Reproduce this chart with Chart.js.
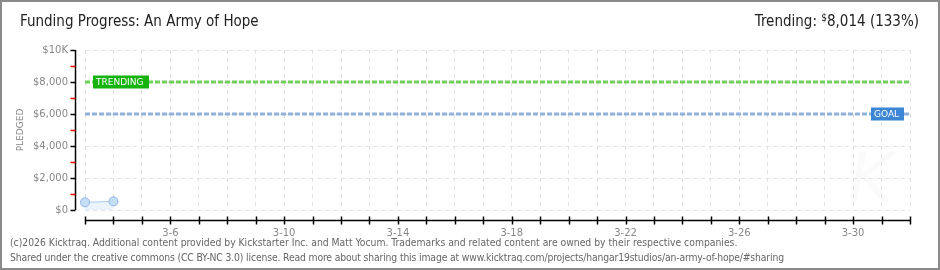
<!DOCTYPE html>
<html>
<head>
<meta charset="utf-8">
<script src="https://cdn.jsdelivr.net/npm/chart.js@4.4.1/dist/chart.umd.min.js"></script>
<style>
  html, body { margin: 0; padding: 0; background: #fff; }
  #wrap { position: relative; width: 940px; height: 270px; overflow: hidden; }
  #frame { position: absolute; left: 0; top: 0; width: 936px; height: 266px; border: 2px solid #8a8a8a; pointer-events: none; }
  #graphCanvas { position: absolute; left: 0; top: 0; }
  .title { position: absolute; left: 20px; top: 12px; font: 15px "DejaVu Sans Condensed", sans-serif; color: #222; }
  .trend { position: absolute; right: 21px; top: 12px; font: 15px "DejaVu Sans Condensed", sans-serif; color: #222; }
  .trend sup { font-size: 10px; vertical-align: 5px; }
  .foot { position: absolute; left: 10px; font: 10.3px "DejaVu Sans Condensed", sans-serif; color: #666; white-space: nowrap; }
</style>
</head>
<body>
<div id="wrap">
  <canvas id="graphCanvas" width="940" height="270"></canvas>
  <div class="title">Funding Progress: An Army of Hope</div>
  <div class="trend">Trending: <sup>$</sup>8,014 (133%)</div>
  <div class="foot" style="top:236px">(c)2026 Kicktraq. Additional content provided by Kickstarter Inc. and Matt Yocum. Trademarks and related content are owned by their respective companies.</div>
  <div class="foot" style="top:251px; letter-spacing:-0.14px">Shared under the creative commons (CC BY-NC 3.0) license. Read more about sharing this image at www.kicktraq.com/projects/hangar19studios/an-army-of-hope/#sharing</div>
  <div id="frame"></div>
</div>
<script>
// days shown on the x axis (3-3 .. 4-1)
var days = ['3-3','3-4','3-5','3-6','3-7','3-8','3-9','3-10','3-11','3-12','3-13','3-14','3-15','3-16','3-17',
            '3-18','3-19','3-20','3-21','3-22','3-23','3-24','3-25','3-26','3-27','3-28','3-29','3-30','3-31','4-1'];
var pledgedDays = ['3-3', '3-4'];
var pledged = [480, 540];
var goal = 6000;
var trending = 8000;
var yTicks = [0, 2000, 4000, 6000, 8000, 10000];

var tickFont = { family: 'DejaVu Sans', size: 10 };

// black axis lines offset from the plot, like the original
var axisPlugin = {
    id: 'axisLines',
    afterDraw: function (chart) {
        var ctx = chart.ctx;
        var x = chart.scales.x, y = chart.scales.y;
        var ca = chart.chartArea;
        ctx.save();
        ctx.strokeStyle = '#000';
        ctx.lineWidth = 1.5;
        // y axis
        var ax = ca.left - 9.5;
        ctx.beginPath();
        ctx.moveTo(ax, y.getPixelForValue(10000));
        ctx.lineTo(ax, y.getPixelForValue(0));
        ctx.stroke();
        for (var v = 0; v <= 10000; v += 1000) {
            var py = Math.round(y.getPixelForValue(v)) + 0.5;
            ctx.strokeStyle = (v % 2000 === 0) ? '#000' : '#e00';
            ctx.beginPath();
            ctx.moveTo(ax - 5, py);
            ctx.lineTo(ax, py);
            ctx.stroke();
        }
        // x axis
        var ay = ca.bottom + 10.5;
        ctx.strokeStyle = '#000';
        ctx.beginPath();
        ctx.moveTo(x.getPixelForValue(0), ay);
        ctx.lineTo(x.getPixelForValue(days.length - 1), ay);
        ctx.stroke();
        for (var i = 0; i < days.length; i++) {
            var px = Math.round(x.getPixelForValue(i)) + 0.5;
            ctx.beginPath();
            ctx.moveTo(px, ay - 4);
            ctx.lineTo(px, ay + 4);
            ctx.stroke();
        }
        ctx.restore();
    }
};

// TRENDING / GOAL tags and the faint watermark
var tagPlugin = {
    id: 'tags',
    afterDatasetsDraw: function (chart) {
        var ctx = chart.ctx;
        var y = chart.scales.y;
        var ca = chart.chartArea;
        ctx.save();
        ctx.font = 'italic 70px "DejaVu Sans"';
        ctx.fillStyle = 'rgba(0,0,0,0.018)';
        ctx.fillText('K', ca.right - 62, ca.bottom - 8);

        function tag(text, left, value, w, bg) {
            var py = y.getPixelForValue(value);
            ctx.fillStyle = bg;
            ctx.fillRect(left, py - 6.5, w, 13);
            ctx.fillStyle = '#fff';
            ctx.font = '9px "DejaVu Sans"';
            ctx.textBaseline = 'middle';
            ctx.fillText(text, left + 3, py + 0.5);
        }
        tag('TRENDING', ca.left + 8, trending, 56, '#16b30e');
        tag('GOAL', ca.right - 39, goal, 33, '#3d86d6');
        ctx.restore();
    }
};

var lineOf = function (v) {
    return [{ x: days[0], y: v }, { x: days[days.length - 1], y: v }];
};

var chart = new Chart(document.getElementById('graphCanvas'), {
    type: 'line',
    data: {
        labels: days,
        datasets: [
            {
                label: 'Pledged',
                data: pledged.map(function (v, i) { return { x: pledgedDays[i], y: v }; }),
                borderColor: '#a9c9ee',
                borderWidth: 1,
                backgroundColor: 'rgba(205,225,248,0.4)',
                fill: 'origin',
                pointRadius: 4.5,
                pointBackgroundColor: '#c6ddf6',
                pointBorderColor: '#8db5e3',
                pointBorderWidth: 1
            },
            {
                label: 'Trending',
                data: lineOf(trending),
                borderColor: '#72cf5e',
                borderWidth: 3,
                borderDash: [5, 2],
                pointRadius: 0,
                fill: false
            },
            {
                label: 'Goal',
                data: lineOf(goal),
                borderColor: '#90b2da',
                borderWidth: 3,
                borderDash: [5, 2],
                pointRadius: 0,
                fill: false
            }
        ]
    },
    options: {
        responsive: false,
        animation: false,
        events: [],
        layout: { padding: { left: 0, right: 30, top: 50, bottom: 0 } },
        plugins: { legend: { display: false }, tooltip: { enabled: false } },
        scales: {
            x: {
                type: 'category',
                offset: false,
                grid: { color: '#e2e2e2', drawTicks: false },
                border: { display: false, dash: [4, 4] },
                ticks: {
                    autoSkip: false,
                    maxRotation: 0,
                    padding: 17,
                    color: '#888',
                    font: tickFont,
                    callback: function (val, idx) { return (idx - 3) % 4 === 0 ? days[idx] : ''; }
                },
                afterFit: function (s) { s.height = 60; }
            },
            y: {
                min: 0,
                max: 10000,
                afterBuildTicks: function (s) { s.ticks = yTicks.map(function (v) { return { value: v }; }); },
                grid: { color: '#e2e2e2', drawTicks: false },
                border: { display: false, dash: [4, 4] },
                ticks: {
                    padding: 17,
                    color: '#888',
                    font: tickFont,
                    callback: function (v) { return v === 10000 ? '$10K' : '$' + v.toLocaleString('en-US'); }
                },
                title: { display: true, text: 'PLEDGED', color: '#888', font: { family: 'DejaVu Sans', size: 9 }, padding: { top: 15 } },
                afterFit: function (s) { s.width = 85; }
            }
        }
    },
    plugins: [axisPlugin, tagPlugin]
});
</script>
</body>
</html>
